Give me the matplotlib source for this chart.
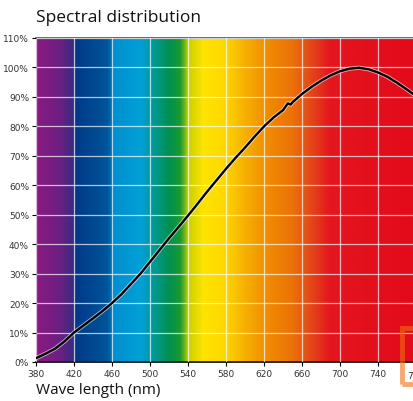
import matplotlib
matplotlib.use("Agg")
import matplotlib.pyplot as plt
import numpy as np
from matplotlib.colors import LinearSegmentedColormap
from matplotlib.patches import Rectangle
import matplotlib.transforms as mtransforms

# relative spectral power
wavelength = [380, 390, 400, 410, 420, 430, 440, 450, 460, 470, 480, 490, 500,
              510, 520, 530, 540, 550, 560, 570, 580, 590, 600, 610, 620, 630,
              640, 645, 648, 650, 660, 670, 680, 690, 700, 710, 720, 730, 740,
              750, 760, 770, 777]
intensity = [1.3, 2.8, 4.5, 7.0, 10.0, 12.4, 14.8, 17.3, 20.0, 23.0, 26.5, 30.0, 34.0,
             38.0, 42.0, 45.8, 49.7, 53.7, 57.8, 61.7, 65.6, 69.3, 72.8, 76.5, 80.0, 83.0,
             85.5, 87.8, 87.4, 88.2, 91.0, 93.4, 95.5, 97.3, 98.7, 99.6, 99.9, 99.4, 98.3,
             96.8, 94.8, 92.6, 91.0]

x_ticks = [380, 420, 460, 500, 540, 580, 620, 660, 700, 740]
y_ticks = list(range(0, 111, 10))

# background spectrum colour stops (nm, colour)
spectrum = [(380, "#8a1a82"), (405, "#6a2082"), (418, "#3a2c80"), (422, "#003a88"),
            (455, "#00559a"), (462, "#0090d0"), (490, "#00a0d8"), (502, "#009a9c"),
            (520, "#009050"), (532, "#1a9a30"), (540, "#c8d000"), (556, "#ffe400"),
            (578, "#fdd800"), (600, "#f6b000"), (625, "#f08a00"), (650, "#ec7208"),
            (668, "#e44c18"), (690, "#e3161e"), (777, "#e30a1a")]

x0, x1 = 380, 776.8
stops = [((w - x0) / (x1 - x0), c) for w, c in spectrum]
stops[-1] = (1.0, stops[-1][1])
cmap = LinearSegmentedColormap.from_list("spec", stops)

fig = plt.figure(figsize=(4.13, 4.02), dpi=100)
ax = fig.add_axes([36 / 413, 1 - 363 / 402, 1 - 36 / 413, (363 - 39) / 402])

grad = np.linspace(0, 1, 800).reshape(1, -1)
ax.imshow(grad, extent=[x0, x1, 0, 110], aspect="auto", cmap=cmap, zorder=0)

ax.set_xlim(x0, x1)
ax.set_ylim(0, 110)
ax.set_xticks(x_ticks)
ax.set_yticks(y_ticks)
ax.set_yticklabels([f"{v}%" for v in y_ticks])
ax.grid(True, color="white", alpha=0.7, lw=0.9, zorder=1)
ax.set_axisbelow(False)

ax.plot(wavelength, intensity, color="white", lw=3.0, alpha=0.6, zorder=3)
ax.plot(wavelength, intensity, color="black", lw=1.7, zorder=4)

ax.tick_params(axis="both", labelsize=6.5, labelcolor="#333333", length=3, width=0.8,
               direction="out", pad=2)
for s in ["left", "right"]:
    ax.spines[s].set_visible(False)
ax.spines["top"].set_color("#555555")
ax.spines["top"].set_linewidth(1.2)
ax.spines["bottom"].set_color("black")
ax.spines["bottom"].set_linewidth(1.2)

# partially visible 780 label at the right edge
trans = mtransforms.blended_transform_factory(ax.transData, ax.transAxes)
ax.text(780, -0.028, "780", transform=trans, ha="center", va="top", fontsize=6.5,
        color="#333333", clip_on=False)

fig.text(36 / 413, 1 - 22 / 402, "Spectral distribution", fontsize=12.5,
         family="Open Sans", color="#111111", ha="left", va="baseline")
fig.text(36 / 413, 1 - 394 / 402, "Wave length (nm)", fontsize=11,
         family="Open Sans", color="#111111", ha="left", va="baseline")

# orange highlight box in the bottom right corner
fig.patches.append(Rectangle((402 / 413, 1 - 385 / 402), 30 / 413, 56 / 402,
                             transform=fig.transFigure, fill=False,
                             edgecolor="#f06e11", alpha=0.6, lw=3.5, zorder=10))

fig.savefig("out.png", dpi=100)
